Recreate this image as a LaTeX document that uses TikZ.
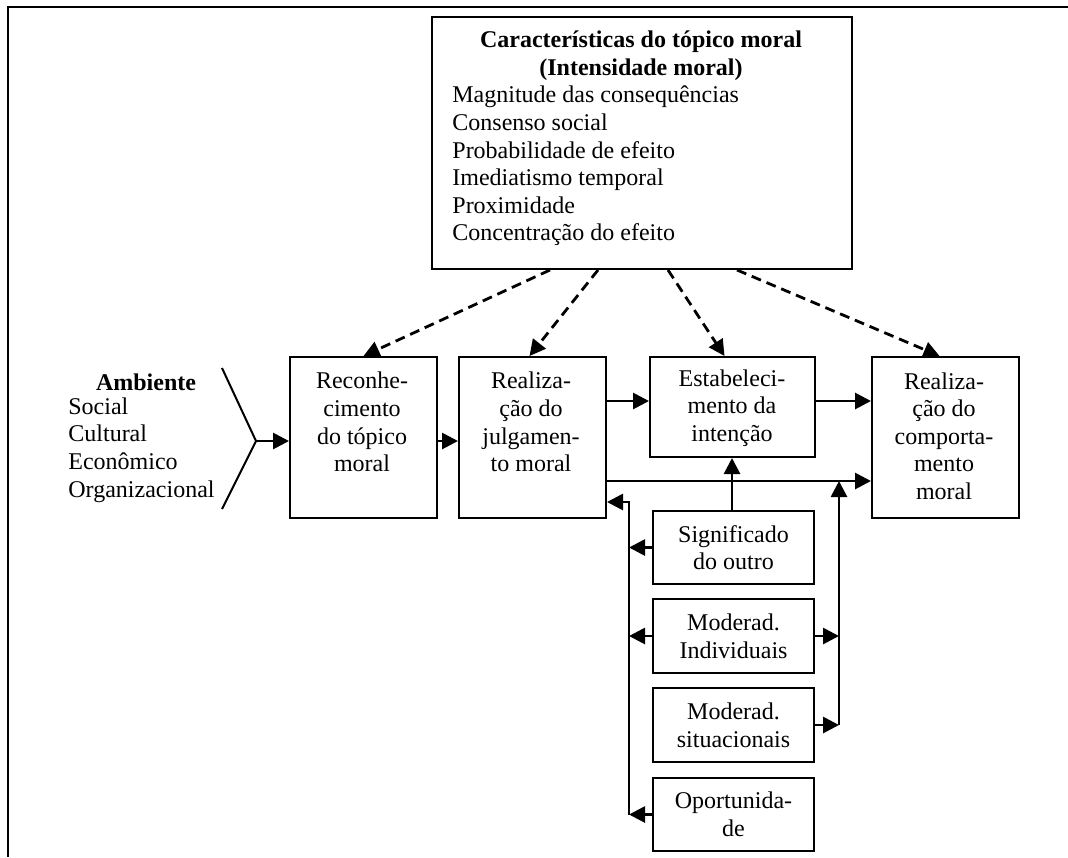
\documentclass[tikz,border=0pt]{standalone}
\usepackage{fontspec}
\setmainfont{Liberation Serif}
\usetikzlibrary{arrows.meta,calc}
\begin{document}
\begin{tikzpicture}[x=0.5pt,y=-0.5pt,
  every node/.style={font=\fontsize{12}{13.8}\selectfont, inner sep=0pt},
  box/.style={draw, line width=1pt, anchor=north west, align=center},
  arr/.style={line width=1.4pt, -{Triangle[length=8pt,width=8pt]}},
  darr/.style={arr, dash pattern=on 5pt off 3pt},
  plain/.style={line width=1.4pt}]
\useasboundingbox (0,0) rectangle (1068,857);
% frame
\draw[line width=1.4pt] (7,7) -- (1068,7);
\draw[line width=1pt] (8,7) -- (8,857);
% boxes
\node[box, minimum width=210pt, minimum height=126pt] (top) at (431,16) {};
\node[font=\fontsize{12}{13.8}\selectfont\bfseries, align=center] (toptitle) at (641,56) {Características do tópico moral\\(Intensidade moral)};
\node[align=left, anchor=west] (toplist) at (452,166) {Magnitude das consequências\\Consenso social\\Probabilidade de efeito\\Imediatismo temporal\\Proximidade\\Concentração do efeito};

\node[box, minimum width=73.5pt, minimum height=80.5pt] (rec) at (289,356) {};
\node[align=center] (rect) at (362,422) {Reconhe-\\cimento\\do tópico\\moral};
\node[box, minimum width=73.5pt, minimum height=80.5pt] (jul) at (458,356) {};
\node[align=center] (jult) at (531,422) {Realiza-\\ção do\\julgamen-\\to moral};
\node[box, minimum width=82.5pt, minimum height=50pt] (est) at (649,356) {};
\node[align=center] (estt) at (732,408) {Estabeleci-\\mento da\\intenção};
\node[box, minimum width=73.5pt, minimum height=80.5pt] (com) at (871,356) {};
\node[align=center] (comt) at (944,436) {Realiza-\\ção do\\comporta-\\mento\\moral};

\node[box, minimum width=80.5pt, minimum height=36.5pt] (sig) at (652,510) {Significado\\do outro};
\node[box, minimum width=80.5pt, minimum height=37pt] (ind) at (652,598) {Moderad.\\Individuais};
\node[box, minimum width=80.5pt, minimum height=37pt] (sit) at (652,687) {Moderad.\\situacionais};
\node[box, minimum width=80.5pt, minimum height=36.5pt] (opo) at (652,777) {Oportunida-\\de};

% ambiente
\node[font=\fontsize{12}{13.8}\selectfont\bfseries] (amb) at (146,382) {Ambiente};
\node[align=left, anchor=west] (ambl) at (68,450) {Social\\Cultural\\Econômico\\Organizacional};
\coordinate (c1) at (222,368);
\coordinate (c2) at (256,441);
\coordinate (c3) at (222,509);
\draw[line width=1pt] (c1) -- (c2) -- (c3);
\draw[arr] (c2) -- (c2 -| rec.west);
\draw[arr] (rec.east |- c2) -- (jul.west |- c2);

% dashed
\draw[darr] ($(top.south)+(-92,0)$) -- (rec.north);
\draw[darr] ($(top.south)+(-44,0)$) -- ($(jul.north)+(-3,0)$);
\draw[darr] ($(top.south)+(26,0)$) -- ($(est.north)+(-8,0)$);
\draw[darr] ($(top.south)+(95,0)$) -- ($(com.north)+(-6,0)$);

% main flow
\coordinate (y401) at (0,401);
\draw[arr] (jul.east |- y401) -- (est.west |- y401);
\draw[arr] (est.east |- y401) -- (com.west |- y401);
\coordinate (h) at (0,481);
\draw[arr] (jul.east |- h) -- (com.west |- h);
\draw[arr] (sig.north -| estt) -- (est.south -| estt);

% left bus
\coordinate (bl) at (629,502);
\draw[arr] (opo.west -| bl) -- (bl) -- (bl -| jul.east);
\draw[arr] (sig.west) -- (sig.west -| bl);
\draw[arr] (ind.west) -- (ind.west -| bl);
\draw[arr] (opo.west) -- (opo.west -| bl);

% right bus
\coordinate (rb) at (839,481);
\draw[arr] (sit.east -| rb) -- (rb);
\draw[arr] (ind.east) -- (ind.east -| rb);
\draw[arr] (sit.east) -- (sit.east -| rb);
\end{tikzpicture}
\end{document}
